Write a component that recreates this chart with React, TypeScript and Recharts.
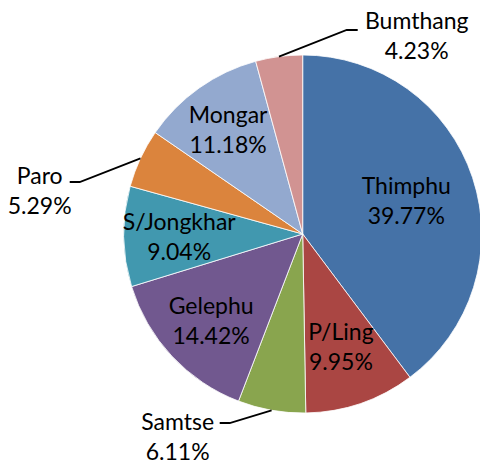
import React from 'react';
import { PieChart, Pie, Cell } from 'recharts';

const districts = ['Thimphu', 'P/Ling', 'Samtse', 'Gelephu', 'S/Jongkhar', 'Paro', 'Mongar', 'Bumthang'];
const shares = [39.77, 9.95, 6.11, 14.42, 9.04, 5.29, 11.18, 4.23];

const COLORS = ['#4572A7', '#AA4643', '#89A54E', '#71588F', '#4198AF', '#DB843D', '#93A9CF', '#D19392'];

const data = districts.map((name, i) => ({ name, value: shares[i] }));

const RADIAN = Math.PI / 180;
const LINE_GAP = 30;

// inside labels: distance from the centre as a fraction of the radius
const INSIDE_R: Record<number, number> = { 0: 0.61, 1: 0.66, 3: 0.7, 4: 0.69, 6: 0.72 };
// outside labels: leader elbow / end and text centre, offsets from the pie centre
const OUTSIDE: Record<number, { elbow: number[]; end: number[]; text: number[] }> = {
  2: { elbow: [-73, 189], end: [-83, 189], text: [-125, 202] },
  5: { elbow: [-223, -52], end: [-233, -52], text: [-263, -44] },
  7: { elbow: [44, -204], end: [55, -204], text: [114, -199] },
};

const renderLabel = (props: any) => {
  const { cx, cy, midAngle, outerRadius, index, name, value } = props;
  const cos = Math.cos(-midAngle * RADIAN);
  const sin = Math.sin(-midAngle * RADIAN);
  let tx: number;
  let ty: number;
  let leader: React.ReactNode = null;
  const out = OUTSIDE[index];
  if (out) {
    const sx = cx + outerRadius * cos;
    const sy = cy + outerRadius * sin;
    const pts = `${sx},${sy} ${cx + out.elbow[0]},${cy + out.elbow[1]} ${cx + out.end[0]},${cy + out.end[1]}`;
    leader = <polyline points={pts} fill="none" stroke="#000" strokeWidth={1.8} />;
    tx = cx + out.text[0];
    ty = cy + out.text[1];
  } else {
    const r = outerRadius * (INSIDE_R[index] ?? 0.66);
    tx = cx + r * cos;
    ty = cy + r * sin;
  }
  return (
    <g>
      {leader}
      <text x={tx} y={ty} textAnchor="middle" dominantBaseline="central" fill="#000"
        style={{ fontFamily: 'Lato, sans-serif', fontSize: 23 }}>
        <tspan x={tx} y={ty - LINE_GAP / 2}>{name}</tspan>
        <tspan x={tx} y={ty + LINE_GAP / 2}>{`${Number(value).toFixed(2)}%`}</tspan>
      </text>
    </g>
  );
};

export default function App() {
  return (
    <div style={{ width: 480, height: 465, background: '#fff' }}>
      <style>{'body{margin:0}'}</style>
      <PieChart width={480} height={465} margin={{ top: 0, right: 0, bottom: 0, left: 0 }}>
        <Pie
          data={data}
          dataKey="value"
          nameKey="name"
          cx={302.7}
          cy={234}
          outerRadius={179}
          startAngle={90}
          endAngle={-270}
          stroke="#fff"
          strokeWidth={0.8}
          label={renderLabel}
          labelLine={false}
          isAnimationActive={false}
        >
          {data.map((_, i) => (
            <Cell key={`cell-${i}`} fill={COLORS[i]} />
          ))}
        </Pie>
      </PieChart>
    </div>
  );
}
